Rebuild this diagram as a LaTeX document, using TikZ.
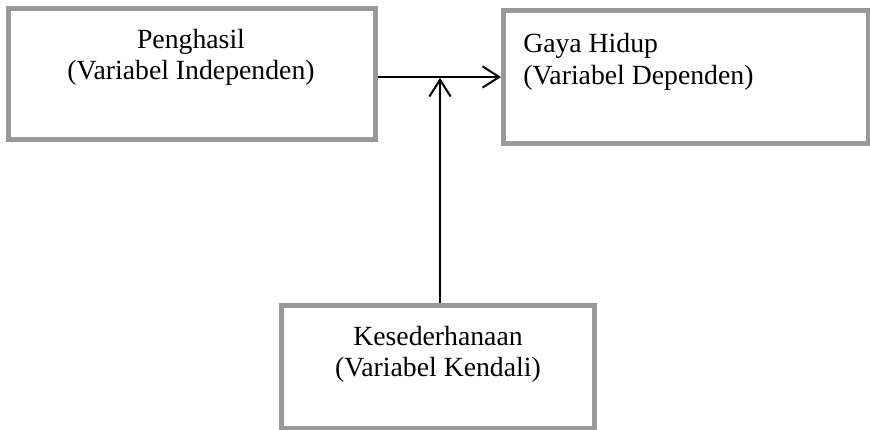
\documentclass[tikz,border=0pt]{standalone}
\usepackage{fontspec}
\setmainfont{Liberation Serif}
\usetikzlibrary{arrows.meta,fit}
\definecolor{boxgray}{RGB}{153,153,153}
\begin{document}
\begin{tikzpicture}[x=0.75pt,y=-0.75pt,
  box/.style={draw=boxgray,line width=3.75pt,inner sep=0pt},
  lbl/.style={anchor=base,inner sep=0pt,font=\fontsize{20.8}{24}\selectfont},
  arr/.style={line width=1.5pt,-{Straight Barb[length=12.5pt,width=16pt]}}]
\useasboundingbox (0,0) rectangle (870,429);
\node[box,fit={(8,8.5) (375,139)}] (A) {};
\node[box,fit={(503.5,10) (868,143)}] (B) {};
\node[box,fit={(281.5,305.5) (594,428.5)}] (C) {};
\node[lbl] (a1) at (191,48) {Penghasil};
\node[lbl] (a2) at (191,79) {(Variabel Independen)};
\node[lbl,anchor=base west] (b1) at (523,52) {Gaya Hidup};
\node[lbl,anchor=base west] (b2) at (523,84) {(Variabel Dependen)};
\node[lbl] (c1) at (438,345) {Kesederhanaan};
\node[lbl] (c2) at (438,376) {(Variabel Kendali)};
\coordinate (h) at (0,77);
\coordinate (v) at (440,78);
\draw[arr] (A.east |- h) -- (B.west |- h);
\draw[arr] (C.north -| v) -- (v);
\end{tikzpicture}
\end{document}
